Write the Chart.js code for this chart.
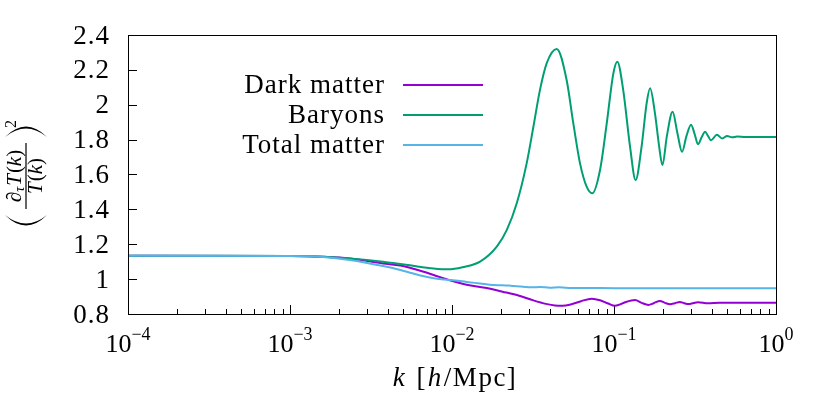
<!DOCTYPE html>
<html>
<head>
<meta charset="utf-8">
<script src="https://cdn.jsdelivr.net/npm/chart.js@4/dist/chart.umd.min.js"></script>
<style>
  html, body { margin: 0; padding: 0; background: #fff; }
  #wrap { width: 830px; height: 410px; }
</style>
</head>
<body>
<div id="wrap"><canvas id="growthChart" width="830" height="410"></canvas></div>
<script>
// values (k in h/Mpc)
const darkK = [0.0001, 0.001, 0.0016, 0.00234, 0.00375, 0.0048, 0.006, 0.0077, 0.0097, 0.0123,
  0.016, 0.0205, 0.026, 0.0318, 0.038, 0.0432, 0.048, 0.054, 0.062, 0.0728, 0.082, 0.092,
  0.1014, 0.109, 0.117, 0.1348, 0.148, 0.163, 0.176, 0.192, 0.206, 0.222, 0.238, 0.255,
  0.271, 0.288, 0.31, 0.33, 0.38, 0.45, 1];
const darkVals = [1.134, 1.133, 1.128, 1.118, 1.09, 1.078, 1.055, 1.024, 0.994, 0.968,
  0.95, 0.928, 0.905, 0.878, 0.858, 0.849, 0.848, 0.855, 0.872, 0.888, 0.879, 0.86,
  0.847, 0.855, 0.867, 0.88, 0.864, 0.852, 0.862, 0.875, 0.864, 0.856, 0.862, 0.869,
  0.862, 0.857, 0.863, 0.867, 0.861, 0.865, 0.865];

const baryonK = [0.0001, 0.0003, 0.001, 0.0016, 0.00234, 0.00375, 0.0055, 0.0077, 0.0095, 0.0116,
  0.0149, 0.0189, 0.0218, 0.0251, 0.0289, 0.0318, 0.0349, 0.0384, 0.0443, 0.051, 0.0561,
  0.0617, 0.0678, 0.0734, 0.082, 0.0902, 0.0991, 0.1048, 0.114, 0.1256, 0.136, 0.148,
  0.159, 0.167, 0.179, 0.19, 0.199, 0.212, 0.23, 0.246, 0.263, 0.28, 0.299, 0.315, 0.33,
  0.348, 0.365, 0.381, 0.397, 0.432, 0.465, 0.499, 0.535, 0.575, 0.65, 1];
const baryonVals = [1.134, 1.134, 1.133, 1.129, 1.119, 1.1, 1.079, 1.061, 1.056, 1.068,
  1.1, 1.186, 1.282, 1.435, 1.664, 1.874, 2.084, 2.237, 2.319, 2.142, 1.893,
  1.664, 1.53, 1.492, 1.626, 1.893, 2.18, 2.247, 2.084, 1.76, 1.568, 1.76,
  2.008, 2.094, 1.951, 1.76, 1.654, 1.82, 1.96, 1.84, 1.73, 1.82, 1.886, 1.83, 1.773,
  1.815, 1.845, 1.82, 1.796, 1.828, 1.807, 1.821, 1.813, 1.818, 1.815, 1.815];

const totalK = [0.0001, 0.001, 0.0016, 0.00234, 0.00375, 0.0048, 0.0055, 0.0063, 0.0077, 0.009,
  0.0105, 0.0123, 0.0149, 0.018, 0.0205, 0.023, 0.0275, 0.031, 0.0349, 0.04, 0.046,
  0.055, 0.07, 0.1, 1];
const totalVals = [1.134, 1.133, 1.127, 1.11, 1.075, 1.052, 1.037, 1.022, 1.005, 0.998,
  0.992, 0.984, 0.975, 0.966, 0.965, 0.962, 0.956, 0.953, 0.955, 0.951, 0.953,
  0.949, 0.949, 0.948, 0.948];

const seriesLabels = ['Dark matter', 'Baryons', 'Total matter'];
const seriesColors = ['#9400d3', '#009e73', '#56b4e9'];

const yTicks = [0.8, 1, 1.2, 1.4, 1.6, 1.8, 2, 2.2, 2.4];
const yTickLabels = ['0.8', '1', '1.2', '1.4', '1.6', '1.8', '2', '2.2', '2.4'];
const xTicks = [1e-4, 1e-3, 1e-2, 1e-1, 1];
const xTickExps = ['\u22124', '\u22123', '\u22122', '\u22121', '0'];
const xMinor = [2, 3, 4, 5, 6, 7, 8, 9];

const serif = '"Liberation Serif", "DejaVu Serif", serif';

const toPoints = (ks, vs) => ks.map((k, i) => ({ x: k, y: vs[i] }));

// draws a run of text pieces centred on cx
function drawRun(ctx, pieces, cx, base) {
  let w = 0;
  pieces.forEach(p => { ctx.font = p.font; w += ctx.measureText(p.t).width + (p.gap || 0); });
  let x = cx - w / 2;
  pieces.forEach(p => {
    ctx.font = p.font;
    ctx.fillText(p.t, x, base + (p.dy || 0));
    x += ctx.measureText(p.t).width + (p.gap || 0);
  });
}

const axesPlugin = {
  id: 'axesPlugin',
  beforeDatasetsDraw(chart) {
    const { ctx, chartArea: a, scales: { x, y } } = chart;
    ctx.save();
    ctx.strokeStyle = '#000';
    ctx.lineWidth = 1;
    ctx.beginPath();
    xTicks.forEach((t, i) => {
      const px = Math.round(x.getPixelForValue(t)) + 0.5;
      ctx.moveTo(px, a.bottom); ctx.lineTo(px, a.bottom - 9);
      if (i < xTicks.length - 1) {
        xMinor.forEach(m => {
          const mx = Math.round(x.getPixelForValue(t * m)) + 0.5;
          ctx.moveTo(mx, a.bottom); ctx.lineTo(mx, a.bottom - 5);
        });
      }
    });
    yTicks.forEach(t => {
      const py = Math.round(y.getPixelForValue(t)) + 0.5;
      ctx.moveTo(a.left, py); ctx.lineTo(a.left + 9, py);
    });
    ctx.stroke();
    ctx.restore();
  },
  afterDatasetsDraw(chart) {
    const { ctx, chartArea: a, scales: { x, y } } = chart;
    ctx.save();
    ctx.strokeStyle = '#000';
    ctx.lineWidth = 1;
    ctx.strokeRect(Math.round(a.left) + 0.5, Math.round(a.top) + 0.5,
      Math.round(a.right - a.left), Math.round(a.bottom - a.top));

    ctx.fillStyle = '#000';
    ctx.textBaseline = 'alphabetic';
    // y tick labels
    ctx.font = '27px ' + serif;
    ctx.letterSpacing = '1px';
    ctx.textAlign = 'right';
    yTicks.forEach((t, i) => {
      ctx.fillText(yTickLabels[i], a.left - 18, y.getPixelForValue(t) + 8.5);
    });
    ctx.letterSpacing = '0px';

    // x tick labels 10^n
    ctx.textAlign = 'left';
    xTicks.forEach((t, i) => {
      drawRun(ctx, [
        { t: '10', font: '26px ' + serif },
        { t: xTickExps[i], font: '18px ' + serif, dy: -12 }
      ], x.getPixelForValue(t), a.bottom + 38);
    });

    // x title
    const xc = (a.left + a.right) / 2 + 3;
    ctx.letterSpacing = '1.5px';
    drawRun(ctx, [
      { t: 'k', font: 'italic 27px ' + serif, gap: 2 },
      { t: ' [', font: '27px ' + serif, gap: 1 },
      { t: 'h', font: 'italic 27px ' + serif, gap: 1 },
      { t: '/Mpc]', font: '27px ' + serif }
    ], xc, 386);
    ctx.letterSpacing = '0px';

    // y title: (d_tau T(k) / T(k))^2, rotated
    ctx.save();
    ctx.translate(26, 176);
    ctx.rotate(-Math.PI / 2);
    const fs = 21;
    drawRun(ctx, [
      { t: '\u2202', font: `italic ${fs}px ` + serif },
      { t: '\u03c4', font: `italic ${fs - 7}px ` + serif, dy: 3, gap: 1 },
      { t: 'T', font: `italic ${fs}px ` + serif, gap: 1 },
      { t: '(', font: `${fs}px ` + serif },
      { t: 'k', font: `italic ${fs}px ` + serif },
      { t: ')', font: `${fs}px ` + serif }
    ], 0, -5);
    drawRun(ctx, [
      { t: 'T', font: `italic ${fs}px ` + serif, gap: 1 },
      { t: '(', font: `${fs}px ` + serif },
      { t: 'k', font: `italic ${fs}px ` + serif },
      { t: ')', font: `${fs}px ` + serif }
    ], 0, 16);
    ctx.fillRect(-33, -0.6, 66, 1.2);
    // big parentheses
    ctx.beginPath();
    ctx.moveTo(-39, -21);
    ctx.quadraticCurveTo(-60, 0, -39, 21);
    ctx.quadraticCurveTo(-56, 0, -39, -21);
    ctx.fill();
    ctx.beginPath();
    ctx.moveTo(39, -21);
    ctx.quadraticCurveTo(60, 0, 39, 21);
    ctx.quadraticCurveTo(56, 0, 39, -21);
    ctx.fill();
    ctx.font = '16px ' + serif;
    ctx.textAlign = 'left';
    ctx.fillText('2', 48, -10);
    ctx.restore();

    // legend
    const rows = [85, 115, 145];
    ctx.letterSpacing = '1px';
    seriesLabels.forEach((lab, i) => {
      ctx.font = '27px ' + serif;
      ctx.textAlign = 'right';
      ctx.fillText(lab, 385, rows[i] + 8);
      ctx.strokeStyle = seriesColors[i];
      ctx.lineWidth = 2;
      ctx.beginPath();
      ctx.moveTo(403, rows[i]);
      ctx.lineTo(483, rows[i]);
      ctx.stroke();
    });
    ctx.letterSpacing = '0px';
    ctx.restore();
  }
};

new Chart(document.getElementById('growthChart'), {
  type: 'line',
  data: {
    datasets: [
      { label: seriesLabels[0], data: toPoints(darkK, darkVals), borderColor: seriesColors[0], order: 2 },
      { label: seriesLabels[1], data: toPoints(baryonK, baryonVals), borderColor: seriesColors[1], order: 1 },
      { label: seriesLabels[2], data: toPoints(totalK, totalVals), borderColor: seriesColors[2], order: 0 }
    ]
  },
  options: {
    responsive: false,
    animation: false,
    devicePixelRatio: 1,
    layout: { padding: { left: 128, right: 54, top: 35, bottom: 96 } },
    elements: {
      point: { radius: 0 },
      line: { borderWidth: 2, cubicInterpolationMode: 'monotone', fill: false }
    },
    plugins: { legend: { display: false }, tooltip: { enabled: false } },
    scales: {
      x: {
        type: 'logarithmic', min: 1e-4, max: 1,
        grid: { display: false, drawTicks: false }, border: { display: false }, ticks: { display: false }
      },
      y: {
        type: 'linear', min: 0.8, max: 2.4,
        grid: { display: false, drawTicks: false }, border: { display: false }, ticks: { display: false }
      }
    }
  },
  plugins: [axesPlugin]
});
</script>
</body>
</html>
